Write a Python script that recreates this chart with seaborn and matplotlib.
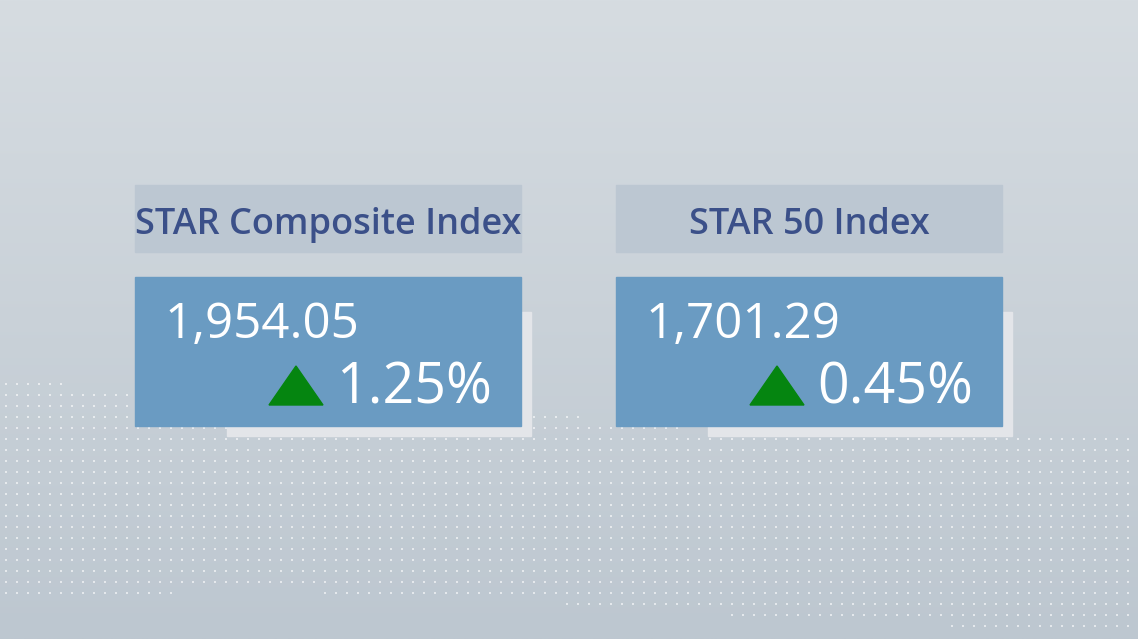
import numpy as np
import matplotlib.pyplot as plt
import matplotlib.colors as mcolors
from matplotlib.patches import Rectangle, Polygon
import seaborn as sns

sns.set_theme(style='white')
plt.rcParams['font.family'] = ['Open Sans', 'DejaVu Sans']

index_names = ['STAR Composite Index', 'STAR 50 Index']
closing_values = [1954.05, 1701.29]
pct_changes = [1.25, 0.45]

W, H = 1138, 639
fig = plt.figure(figsize=(W / 100, H / 100), dpi=100)
ax = fig.add_axes([0, 0, 1, 1])
ax.set_xlim(0, W)
ax.set_ylim(H, 0)
ax.axis('off')

# background: soft vertical gradient
top = np.array(mcolors.to_rgb('#d6dce1'))
bottom = np.array(mcolors.to_rgb('#bdc7d0'))
t = np.linspace(0, 1, 300)[:, None, None]
img = top + (bottom - top) * t
img = np.repeat(img, 2, axis=1)
ax.imshow(img, extent=[0, W, H, 0], aspect='auto', zorder=0)

# decorative dot grid in the lower half
gx, gy = np.meshgrid(np.arange(6, W, 11), np.arange(384, H, 11))
gx, gy = gx.ravel(), gy.ravel()
upper = np.interp(gx, [0, 400, 700, 1138], [382, 395, 430, 437])
lower = np.interp(gx, [0, 250, 500, 800, 1138], [600, 590, 600, 620, 634])
keep = (gy >= upper) & (gy <= lower)
sns.scatterplot(x=gx[keep], y=gy[keep], ax=ax, s=2.5, color='white',
                alpha=0.6, linewidth=0, marker='s', zorder=1)

box_lefts = [135, 616]
box_w = 386
for i, name in enumerate(index_names):
    x0 = box_lefts[i]
    # header
    ax.add_patch(Rectangle((x0, 185), box_w, 67, color='#bcc7d2', zorder=2))
    ax.text(x0 + box_w / 2, 234, name, ha='center', va='baseline',
            fontsize=26, fontweight='semibold', color='#3b5089', zorder=5)
    # shadow and value panel
    ax.add_patch(Rectangle((x0 + 92, 312), box_w - 82, 124,
                           color='#e3e5e9', zorder=2))
    ax.add_patch(Rectangle((x0, 277), box_w, 149, color='#6a9bc2', zorder=3))
    ax.text(x0 + 30, 338, f'{closing_values[i]:,.2f}', ha='left',
            va='baseline', fontsize=35.5, color='white', zorder=5)
    ax.text(x0 + box_w - 29, 403, f'{pct_changes[i]:.2f}%', ha='right',
            va='baseline', fontsize=40, color='white', zorder=5)
    cx = x0 + 161
    ax.add_patch(Polygon([(cx - 27, 405), (cx + 27, 405), (cx, 366)],
                         closed=True, color='#058510', zorder=4))

fig.savefig('out.png', dpi=100)
